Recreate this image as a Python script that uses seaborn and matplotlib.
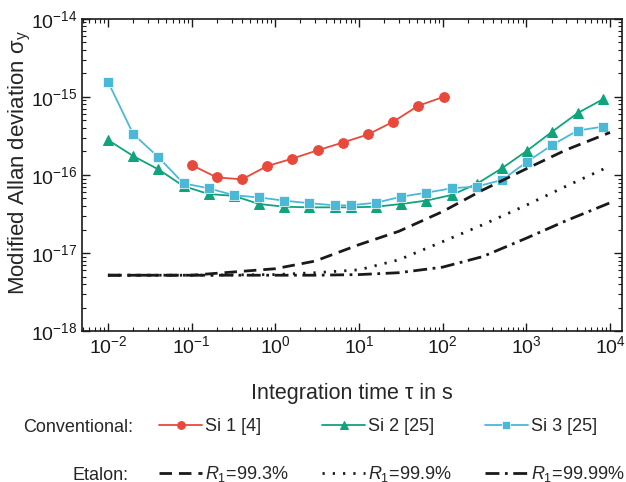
import numpy as np
import pandas as pd
import matplotlib
matplotlib.use("Agg")
import matplotlib.pyplot as plt
import seaborn as sns

# measured points (tau in s, modified Allan deviation)
tau_si1 = [0.1, 0.2, 0.4, 0.8, 1.6, 3.2, 6.4, 12.8, 25.6, 51.2, 102.4]
sig_si1 = [1.34e-16, 9.3e-17, 8.8e-17, 1.30e-16, 1.62e-16, 2.07e-16,
           2.6e-16, 3.3e-16, 4.8e-16, 7.7e-16, 1.0e-15]

tau_si23 = [0.01, 0.02, 0.04, 0.08, 0.16, 0.32, 0.64, 1.28, 2.56, 5.12, 8,
            16, 32, 64, 128, 256, 512, 1024, 2048, 4096, 8192]
sig_si2 = [2.81e-16, 1.75e-16, 1.18e-16, 7.2e-17, 5.7e-17, 5.4e-17, 4.25e-17,
           3.92e-17, 3.85e-17, 3.85e-17, 3.85e-17, 3.92e-17, 4.25e-17, 4.7e-17,
           5.54e-17, 7.7e-17, 1.22e-16, 2.05e-16, 3.6e-16, 6.2e-16, 9.3e-16]
sig_si3 = [1.57e-15, 3.36e-16, 1.69e-16, 7.8e-17, 6.75e-17, 5.5e-17, 5.15e-17,
           4.69e-17, 4.34e-17, 4.09e-17, 4.09e-17, 4.41e-17, 5.27e-17, 5.93e-17,
           6.75e-17, 7.1e-17, 8.63e-17, 1.48e-16, 2.43e-16, 3.7e-16, 4.16e-16]

# etalon estimates
tau_et = [0.01, 0.1, 1, 3, 10, 30, 100, 300, 1000, 3000, 10000]
sig_993 = [5.2e-18, 5.2e-18, 6.3e-18, 7.9e-18, 1.28e-17, 1.9e-17, 3.4e-17,
           6.4e-17, 1.2e-16, 2.1e-16, 3.5e-16]
sig_999 = [5.2e-18, 5.2e-18, 5.3e-18, 5.6e-18, 6.1e-18, 8.2e-18, 1.4e-17,
           2.3e-17, 4.1e-17, 7.2e-17, 1.3e-16]
sig_9999 = [5.2e-18, 5.2e-18, 5.2e-18, 5.2e-18, 5.3e-18, 5.6e-18, 6.6e-18,
            9.0e-18, 1.55e-17, 2.6e-17, 4.4e-17]

sns.set_theme(style="ticks")
FONT = "Liberation Sans"
plt.rcParams["font.family"] = [FONT, "DejaVu Sans"]
plt.rcParams["mathtext.fontset"] = "custom"
plt.rcParams["mathtext.rm"] = FONT
plt.rcParams["mathtext.it"] = FONT + ":italic"

red = "#e8493b"
green = "#10a37c"
blue = "#4cb8d8"

fig = plt.figure(figsize=(6.26, 4.82), dpi=100)
ax = fig.add_axes([0.131, 0.313, 0.863, 0.648])

df1 = pd.DataFrame({"tau": tau_si1, "sig": sig_si1})
df23 = pd.DataFrame({"tau": tau_si23, "s2": sig_si2, "s3": sig_si3})
dfe = pd.DataFrame({"tau": tau_et, "a": sig_993, "b": sig_999, "c": sig_9999})

sns.lineplot(data=df1, x="tau", y="sig", ax=ax, color=red, marker="o",
             markersize=7, markeredgecolor=red, lw=1.3, label="Si 1 [4]")
sns.lineplot(data=df23, x="tau", y="s2", ax=ax, color=green, marker="^",
             markersize=7.5, markeredgecolor=green, lw=1.3, label="Si 2 [25]")
sns.lineplot(data=df23, x="tau", y="s3", ax=ax, color=blue, marker="s",
             markersize=6.5, markeredgecolor="white", markeredgewidth=0.5,
             lw=1.3, label="Si 3 [25]")
sns.lineplot(data=dfe, x="tau", y="a", ax=ax, color="k", lw=2,
             linestyle=(0, (4.5, 2.5)), label="$R_\\mathit{1}$=99.3%")
sns.lineplot(data=dfe, x="tau", y="b", ax=ax, color="k", lw=2,
             linestyle=(0, (0.8, 2.9)), label="$R_\\mathit{1}$=99.9%")
sns.lineplot(data=dfe, x="tau", y="c", ax=ax, color="k", lw=2,
             linestyle=(0, (5, 2, 1, 2)), label="$R_\\mathit{1}$=99.99%")

ax.set_xscale("log")
ax.set_yscale("log")
ax.set_xlim(0.0049, 14000)
ax.set_ylim(1e-18, 1e-14)
ax.set_xlabel("Integration time τ in s", fontsize=15.5)
ax.xaxis.set_label_coords(0.5, -0.165)
ax.set_ylabel("Modified Allan deviation σ$_\\mathregular{y}$", fontsize=16)
ax.yaxis.set_label_coords(-0.091, 0.54)
ax.tick_params(which="both", direction="in", top=True, right=True, colors="k",
               labelsize=14)
ax.tick_params(which="major", length=6, width=1, pad=3)
ax.tick_params(which="minor", length=3, width=0.8)
ax.xaxis.set_minor_locator(matplotlib.ticker.LogLocator(base=10, subs=np.arange(2, 10), numticks=20))
ax.yaxis.set_minor_locator(matplotlib.ticker.LogLocator(base=10, subs=np.arange(2, 10), numticks=20))
ax.xaxis.set_minor_formatter(matplotlib.ticker.NullFormatter())
ax.yaxis.set_minor_formatter(matplotlib.ticker.NullFormatter())
for s in ax.spines.values():
    s.set_color("k")
    s.set_linewidth(1.2)

handles, labels = ax.get_legend_handles_labels()
order = [0, 3, 1, 4, 2, 5]
ax.legend([handles[i] for i in order], [labels[i] for i in order],
          ncol=3, frameon=False, fontsize=13, markerscale=0.8,
          handlelength=2.4, handletextpad=0.15, columnspacing=1.85,
          labelspacing=1.6, loc="upper left",
          bbox_to_anchor=(0.228, 0.166), bbox_transform=fig.transFigure)
fig.text(0.213, 0.114, "Conventional:", ha="right", va="center", fontsize=13)
fig.text(0.205, 0.014, "Etalon:", ha="right", va="center", fontsize=13)

fig.savefig("out.png", dpi=100)
